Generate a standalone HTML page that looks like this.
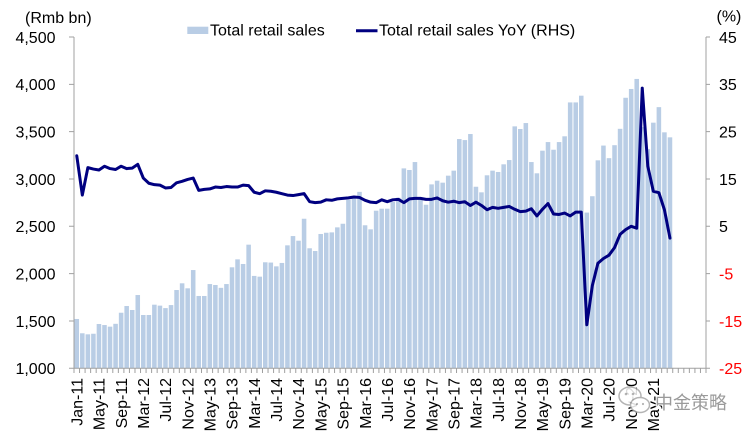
<!DOCTYPE html>
<html>
<head>
<meta charset="utf-8">
<style>
  html, body { margin: 0; padding: 0; background: #fff; }
  svg { display: block; }
  text { font-family: "Liberation Sans", Arial, sans-serif; font-size: 16px; fill: #000; }
  .r { fill: #ff0000; }
  .wm { font-family: "Liberation Sans", "Noto Sans CJK SC", sans-serif; font-size: 18px; fill: #9a9a9a; }
</style>
</head>
<body>
<svg width="750" height="436" viewBox="0 0 750 436" xmlns="http://www.w3.org/2000/svg">
  <rect x="0" y="0" width="750" height="436" fill="#fff"/>

  <!-- Bars -->
  <g transform="translate(74,368.3) scale(5.5439,-0.094657) translate(0,-1000)" fill="#b9cde5">
    <rect x="0.09" y="1000" width="0.82" height="521"/>
    <rect x="1.09" y="1000" width="0.82" height="370"/>
    <rect x="2.09" y="1000" width="0.82" height="359"/>
    <rect x="3.09" y="1000" width="0.82" height="365"/>
    <rect x="4.09" y="1000" width="0.82" height="468"/>
    <rect x="5.09" y="1000" width="0.82" height="457"/>
    <rect x="6.09" y="1000" width="0.82" height="440"/>
    <rect x="7.09" y="1000" width="0.82" height="470"/>
    <rect x="8.09" y="1000" width="0.82" height="587"/>
    <rect x="9.09" y="1000" width="0.82" height="658"/>
    <rect x="10.09" y="1000" width="0.82" height="616"/>
    <rect x="11.09" y="1000" width="0.82" height="774"/>
    <rect x="12.09" y="1000" width="0.82" height="563"/>
    <rect x="13.09" y="1000" width="0.82" height="563"/>
    <rect x="14.09" y="1000" width="0.82" height="672"/>
    <rect x="15.09" y="1000" width="0.82" height="662"/>
    <rect x="16.09" y="1000" width="0.82" height="636"/>
    <rect x="17.09" y="1000" width="0.82" height="668"/>
    <rect x="18.09" y="1000" width="0.82" height="827"/>
    <rect x="19.09" y="1000" width="0.82" height="898"/>
    <rect x="20.09" y="1000" width="0.82" height="845"/>
    <rect x="21.09" y="1000" width="0.82" height="1038"/>
    <rect x="22.09" y="1000" width="0.82" height="764"/>
    <rect x="23.09" y="1000" width="0.82" height="764"/>
    <rect x="24.09" y="1000" width="0.82" height="890"/>
    <rect x="25.09" y="1000" width="0.82" height="880"/>
    <rect x="26.09" y="1000" width="0.82" height="850"/>
    <rect x="27.09" y="1000" width="0.82" height="890"/>
    <rect x="28.09" y="1000" width="0.82" height="1067"/>
    <rect x="29.09" y="1000" width="0.82" height="1151"/>
    <rect x="30.09" y="1000" width="0.82" height="1102"/>
    <rect x="31.09" y="1000" width="0.82" height="1306"/>
    <rect x="32.09" y="1000" width="0.82" height="976"/>
    <rect x="33.09" y="1000" width="0.82" height="968"/>
    <rect x="34.09" y="1000" width="0.82" height="1120"/>
    <rect x="35.09" y="1000" width="0.82" height="1117"/>
    <rect x="36.09" y="1000" width="0.82" height="1077"/>
    <rect x="37.09" y="1000" width="0.82" height="1113"/>
    <rect x="38.09" y="1000" width="0.82" height="1299"/>
    <rect x="39.09" y="1000" width="0.82" height="1397"/>
    <rect x="40.09" y="1000" width="0.82" height="1348"/>
    <rect x="41.09" y="1000" width="0.82" height="1580"/>
    <rect x="42.09" y="1000" width="0.82" height="1268"/>
    <rect x="43.09" y="1000" width="0.82" height="1239"/>
    <rect x="44.09" y="1000" width="0.82" height="1419"/>
    <rect x="45.09" y="1000" width="0.82" height="1432"/>
    <rect x="46.09" y="1000" width="0.82" height="1436"/>
    <rect x="47.09" y="1000" width="0.82" height="1489"/>
    <rect x="48.09" y="1000" width="0.82" height="1527"/>
    <rect x="49.09" y="1000" width="0.82" height="1780"/>
    <rect x="50.09" y="1000" width="0.82" height="1801"/>
    <rect x="51.09" y="1000" width="0.82" height="1864"/>
    <rect x="52.09" y="1000" width="0.82" height="1511"/>
    <rect x="53.09" y="1000" width="0.82" height="1468"/>
    <rect x="54.09" y="1000" width="0.82" height="1665"/>
    <rect x="55.09" y="1000" width="0.82" height="1686"/>
    <rect x="56.09" y="1000" width="0.82" height="1686"/>
    <rect x="57.09" y="1000" width="0.82" height="1757"/>
    <rect x="58.09" y="1000" width="0.82" height="1802"/>
    <rect x="59.09" y="1000" width="0.82" height="2112"/>
    <rect x="60.09" y="1000" width="0.82" height="2095"/>
    <rect x="61.09" y="1000" width="0.82" height="2179"/>
    <rect x="62.09" y="1000" width="0.82" height="1790"/>
    <rect x="63.09" y="1000" width="0.82" height="1728"/>
    <rect x="64.09" y="1000" width="0.82" height="1943"/>
    <rect x="65.09" y="1000" width="0.82" height="1982"/>
    <rect x="66.09" y="1000" width="0.82" height="1961"/>
    <rect x="67.09" y="1000" width="0.82" height="2035"/>
    <rect x="68.09" y="1000" width="0.82" height="2088"/>
    <rect x="69.09" y="1000" width="0.82" height="2422"/>
    <rect x="70.09" y="1000" width="0.82" height="2411"/>
    <rect x="71.09" y="1000" width="0.82" height="2475"/>
    <rect x="72.09" y="1000" width="0.82" height="1918"/>
    <rect x="73.09" y="1000" width="0.82" height="1859"/>
    <rect x="74.09" y="1000" width="0.82" height="2039"/>
    <rect x="75.09" y="1000" width="0.82" height="2088"/>
    <rect x="76.09" y="1000" width="0.82" height="2074"/>
    <rect x="77.09" y="1000" width="0.82" height="2155"/>
    <rect x="78.09" y="1000" width="0.82" height="2200"/>
    <rect x="79.09" y="1000" width="0.82" height="2556"/>
    <rect x="80.09" y="1000" width="0.82" height="2528"/>
    <rect x="81.09" y="1000" width="0.82" height="2591"/>
    <rect x="82.09" y="1000" width="0.82" height="2179"/>
    <rect x="83.09" y="1000" width="0.82" height="2060"/>
    <rect x="84.09" y="1000" width="0.82" height="2299"/>
    <rect x="85.09" y="1000" width="0.82" height="2390"/>
    <rect x="86.09" y="1000" width="0.82" height="2309"/>
    <rect x="87.09" y="1000" width="0.82" height="2390"/>
    <rect x="88.09" y="1000" width="0.82" height="2451"/>
    <rect x="89.09" y="1000" width="0.82" height="2809"/>
    <rect x="90.09" y="1000" width="0.82" height="2809"/>
    <rect x="91.09" y="1000" width="0.82" height="2880"/>
    <rect x="92.09" y="1000" width="0.82" height="1645"/>
    <rect x="93.09" y="1000" width="0.82" height="1818"/>
    <rect x="94.09" y="1000" width="0.82" height="2197"/>
    <rect x="95.09" y="1000" width="0.82" height="2353"/>
    <rect x="96.09" y="1000" width="0.82" height="2220"/>
    <rect x="97.09" y="1000" width="0.82" height="2357"/>
    <rect x="98.09" y="1000" width="0.82" height="2530"/>
    <rect x="99.09" y="1000" width="0.82" height="2858"/>
    <rect x="100.09" y="1000" width="0.82" height="2951"/>
    <rect x="101.09" y="1000" width="0.82" height="3057"/>
    <rect x="102.09" y="1000" width="0.82" height="2548"/>
    <rect x="103.09" y="1000" width="0.82" height="2315"/>
    <rect x="104.09" y="1000" width="0.82" height="2595"/>
    <rect x="105.09" y="1000" width="0.82" height="2759"/>
    <rect x="106.09" y="1000" width="0.82" height="2493"/>
    <rect x="107.09" y="1000" width="0.82" height="2440"/>
  </g>

  <!-- Axes -->
  <g stroke="#a0a0a0" stroke-width="1" fill="none">
    <line x1="74" y1="37" x2="74" y2="368.3"/>
    <line x1="706" y1="37" x2="706" y2="368.3"/>
    <line x1="74" y1="368.3" x2="706" y2="368.3"/>
    <path d="M69 37H74M69 84.33H74M69 131.66H74M69 178.99H74M69 226.31H74M69 273.64H74M69 320.97H74M69 368.3H74"/>
    <path d="M706 37H710M706 84.33H710M706 131.66H710M706 178.99H710M706 226.31H710M706 273.64H710M706 320.97H710M706 368.3H710"/>
    <line x1="73.5" y1="370.65" x2="706.5" y2="370.65" stroke-width="4.7" stroke-dasharray="1 4.5439"/>
  </g>

  <!-- YoY line -->
  <g transform="translate(74,368.3) scale(5.5439,-4.7329) translate(0.5,25)">
    <polyline fill="none" stroke="#000080" stroke-width="3" stroke-linejoin="round" stroke-linecap="round" vector-effect="non-scaling-stroke"
      points="0,19.9 1,11.6 2,17.4 3,17.1 4,16.9 5,17.7 6,17.2 7,17.0 8,17.7 9,17.2 10,17.3 11,18.1 12,15.2 13,14.1 14,13.8 15,13.7 16,13.1 17,13.2 18,14.2 19,14.5 20,14.9 21,15.2 22,12.6 23,12.8 24,12.9 25,13.3 26,13.2 27,13.4 28,13.3 29,13.3 30,13.7 31,13.6 32,12.2 33,11.9 34,12.5 35,12.4 36,12.2 37,11.9 38,11.6 39,11.5 40,11.7 41,11.9 42,10.2 43,10.0 44,10.1 45,10.6 46,10.5 47,10.8 48,10.9 49,11.0 50,11.2 51,11.1 52,10.5 53,10.1 54,10.0 55,10.6 56,10.2 57,10.6 58,10.7 59,10.0 60,10.8 61,10.9 62,10.9 63,10.7 64,10.7 65,11.0 66,10.4 67,10.1 68,10.3 69,10.0 70,10.2 71,9.4 72,10.1 73,9.4 74,8.5 75,9.0 76,8.8 77,9.0 78,9.2 79,8.6 80,8.1 81,8.2 82,8.7 83,7.2 84,8.6 85,9.8 86,7.6 87,7.5 88,7.8 89,7.2 90,8.0 91,8.0 92,-15.8 93,-7.5 94,-2.8 95,-1.8 96,-1.1 97,0.5 98,3.3 99,4.3 100,5.0 101,4.6 102,34.2 103,17.7 104,12.4 105,12.1 106,8.5 107,2.5"/>
  </g>

  <!-- Left axis labels -->
  <g text-anchor="end">
    <text x="55.5" y="42.8">4,500</text>
    <text x="55.5" y="90.1">4,000</text>
    <text x="55.5" y="137.5">3,500</text>
    <text x="55.5" y="184.8">3,000</text>
    <text x="55.5" y="232.1">2,500</text>
    <text x="55.5" y="279.4">2,000</text>
    <text x="55.5" y="326.8">1,500</text>
    <text x="55.5" y="374.1">1,000</text>
  </g>

  <!-- Right axis labels -->
  <g>
    <text x="719" y="42.8">45</text>
    <text x="719" y="90.1">35</text>
    <text x="719" y="137.5">25</text>
    <text x="719" y="184.8">15</text>
    <text x="719" y="232.1">5</text>
    <text x="719" y="279.4" class="r">-5</text>
    <text x="719" y="326.8" class="r">-15</text>
    <text x="719" y="374.1" class="r">-25</text>
  </g>

  <!-- Axis titles -->
  <text x="25" y="23">(Rmb bn)</text>
  <text x="716.5" y="21.7">(%)</text>

  <!-- Legend -->
  <rect x="187.3" y="26.7" width="21" height="7.3" fill="#b9cde5"/>
  <text x="210" y="35.7">Total retail sales</text>
  <line x1="356" y1="30.7" x2="377.5" y2="30.7" stroke="#000080" stroke-width="3"/>
  <text x="379" y="35.7">Total retail sales YoY (RHS)</text>

  <!-- X axis labels -->
  <g text-anchor="end">
    <text transform="translate(82.5,378) rotate(-90)">Jan-11</text>
    <text transform="translate(104.6,378) rotate(-90)">May-11</text>
    <text transform="translate(126.8,378) rotate(-90)">Sep-11</text>
    <text transform="translate(149.0,378) rotate(-90)">Mar-12</text>
    <text transform="translate(171.2,378) rotate(-90)">Jul-12</text>
    <text transform="translate(193.4,378) rotate(-90)">Nov-12</text>
    <text transform="translate(215.5,378) rotate(-90)">May-13</text>
    <text transform="translate(237.7,378) rotate(-90)">Sep-13</text>
    <text transform="translate(259.9,378) rotate(-90)">Mar-14</text>
    <text transform="translate(282.1,378) rotate(-90)">Jul-14</text>
    <text transform="translate(304.2,378) rotate(-90)">Nov-14</text>
    <text transform="translate(326.4,378) rotate(-90)">May-15</text>
    <text transform="translate(348.6,378) rotate(-90)">Sep-15</text>
    <text transform="translate(370.8,378) rotate(-90)">Mar-16</text>
    <text transform="translate(393.0,378) rotate(-90)">Jul-16</text>
    <text transform="translate(415.1,378) rotate(-90)">Nov-16</text>
    <text transform="translate(437.3,378) rotate(-90)">May-17</text>
    <text transform="translate(459.5,378) rotate(-90)">Sep-17</text>
    <text transform="translate(481.6,378) rotate(-90)">Mar-18</text>
    <text transform="translate(503.8,378) rotate(-90)">Jul-18</text>
    <text transform="translate(526.0,378) rotate(-90)">Nov-18</text>
    <text transform="translate(548.2,378) rotate(-90)">May-19</text>
    <text transform="translate(570.3,378) rotate(-90)">Sep-19</text>
    <text transform="translate(592.5,378) rotate(-90)">Mar-20</text>
    <text transform="translate(614.7,378) rotate(-90)">Jul-20</text>
    <text transform="translate(636.9,378) rotate(-90)">Nov-20</text>
    <text transform="translate(659.1,378) rotate(-90)">May-21</text>
  </g>

  <!-- Watermark -->
  <g opacity="0.85">
    <ellipse cx="630" cy="396" rx="11" ry="9" fill="#fff" stroke="#a8a8a8" stroke-width="1.5"/>
    <ellipse cx="640" cy="405" rx="9.5" ry="7.5" fill="#fff" stroke="#a8a8a8" stroke-width="1.5"/>
    <circle cx="626" cy="394" r="1.3" fill="#a8a8a8"/>
    <circle cx="633" cy="394" r="1.3" fill="#a8a8a8"/>
    <circle cx="637" cy="404" r="1.1" fill="#a8a8a8"/>
    <circle cx="643" cy="404" r="1.1" fill="#a8a8a8"/>
  </g>
  <text x="655" y="409" class="wm" stroke="#fff" stroke-width="2" paint-order="stroke">中金策略</text>
</svg>
</body>
</html>
